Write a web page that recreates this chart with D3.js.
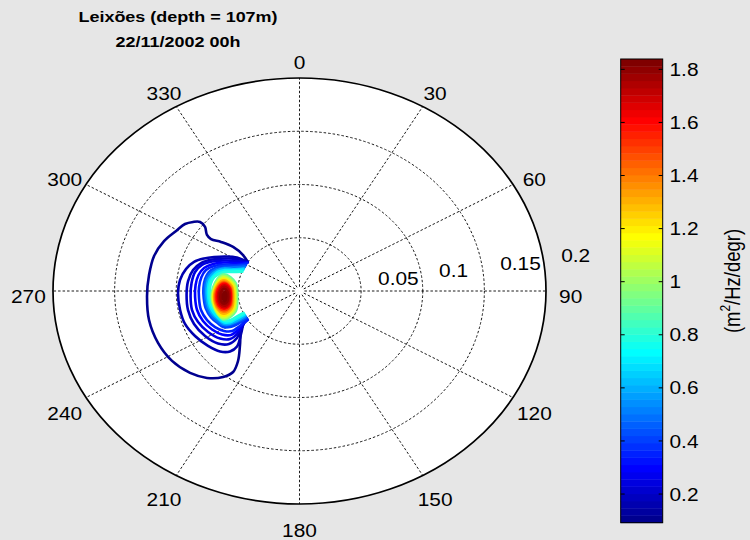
<!DOCTYPE html>
<html>
<head>
<meta charset="utf-8">
<script src="https://cdn.jsdelivr.net/npm/d3@7"></script>
<style>
  html, body { margin: 0; padding: 0; background: #e6e6e6; }
  svg { display: block; }
  text { font-family: "Liberation Sans", Arial, Helvetica, sans-serif; fill: #000; }
</style>
</head>
<body>
<svg id="chart" width="750" height="540"></svg>
<script>
// ---- data ----------------------------------------------------------
const titleLines = ["Leixões (depth = 107m)", "22/11/2002 00h"];
const directionTicks = [0, 30, 60, 90, 120, 150, 180, 210, 240, 270, 300, 330];
const radiusTicks = [0.05, 0.1, 0.15, 0.2];
const radiusMax = 0.2;
const colorLimits = [0.092, 1.839];
const colorbarTicks = [0.2, 0.4, 0.6, 0.8, 1, 1.2, 1.4, 1.6, 1.8];
const colorbarUnit = ["(m", "2", "/Hz/degr)"];

// contour levels of the directional spectrum (m²/Hz/degr)
const contourLevels = [0.1, 0.15, 0.2, 0.25, 0.3, 0.35, 0.4, 0.5, 0.6, 0.7, 0.8,
                       0.9, 1.0, 1.1, 1.2, 1.3, 1.4, 1.5, 1.6, 1.7, 1.75, 1.8, 1.83];
// levels from 0.9 up are closed rings; lower ones end on the 0.05 Hz limit
const closedFromLevel = 0.9;

// each contour: [direction (deg, clockwise from N), frequency (Hz)]
const contourPoints = [
  [[303,.050],[306.4,.0569],[307.5,.0679],[305.9,.0786],[304.2,.0868],[305.2,.0920],[308.1,.0974],[308.8,.1035],[306.9,.1080],[304.1,.1122],[299.4,.1149],[293.1,.1195],[285.6,.1225],[277.0,.1230],[267.8,.1238],[257.4,.1251],[247.0,.1247],[237.6,.1225],[229.1,.1175],[222.6,.1109],[217.5,.1018],[215.3,.0932],[217.2,.0825],[223.6,.0700],[232.3,.0599],[240,.050]],
  [[303,.050],[301.8,.0597],[298.5,.0679],[294.7,.0763],[291.5,.0832],[287.7,.0898],[282.7,.0943],[276.1,.0975],[268.9,.0986],[259.6,.0985],[251.6,.0979],[243.5,.0947],[235.2,.0904],[228.6,.0859],[224.8,.0800],[224.2,.0727],[229.6,.0623],[237.1,.0536],[239,.050]],
  [[303,.050],[300.7,.0589],[296.8,.0677],[292.6,.0769],[288.2,.0841],[282.9,.0886],[275.9,.0909],[267.6,.0917],[258.8,.0922],[250.1,.0910],[241.1,.0875],[233.3,.0825],[229.0,.0758],[229.0,.0672],[234.1,.0576],[238.5,.050]],
  [[302.5,.050],[298.7,.0587],[295.1,.0676],[291.3,.0762],[287.2,.0828],[281.9,.0866],[274.9,.0879],[267.0,.0885],[258.4,.0890],[250.5,.0873],[242.6,.0836],[235.3,.0784],[231.3,.0722],[231.7,.0636],[235.9,.0553],[238,.050]],
  [[302,.050],[297.0,.0578],[293.6,.0668],[289.9,.0746],[285.6,.0804],[280.4,.0833],[273.8,.0845],[266.2,.0849],[257.9,.0850],[250.2,.0832],[243.0,.0796],[237.0,.0750],[233.4,.0692],[233.7,.0619],[236.5,.0545],[237.5,.050]],
  [[301.5,.050],[295.4,.0570],[292.4,.0654],[288.7,.0732],[284.6,.0784],[279.4,.0806],[272.6,.0816],[265.4,.0818],[257.4,.0819],[250.0,.0798],[243.7,.0764],[238.5,.0718],[235.5,.0664],[235.7,.0599],[237,.050]],
  [[299,.050],[294,.0575],[291,.0650],[287.5,.0715],[283.5,.0755],[278.5,.0772],[272,.0778],[265,.0778],[258,.0776],[251,.0757],[245.5,.0727],[241.5,.0705],[239,.0645],[238.5,.0590],[239.5,.050]],
  [[297,.050],[292.5,.0575],[289.5,.0645],[286.5,.0705],[282.5,.0742],[278,.0760],[272,.0766],[265,.0766],[258,.0763],[251.5,.0745],[246.5,.0718],[243,.0695],[241,.0650],[240.5,.0590],[241,.050]],
  [[295,.050],[290.5,.0575],[289,.0642],[285.8,.0695],[281.5,.0730],[277.5,.0748],[272,.0753],[265,.0753],[258.5,.0750],[252.5,.0733],[248,.0708],[243.5,.0684],[241.6,.0641],[241.5,.0581],[242.5,.050]],
  [[293.5,.050],[290,.0572],[287.7,.0637],[285,.0687],[280.5,.0718],[277,.0735],[271.5,.0741],[265,.0741],[259,.0738],[254,.0725],[249.5,.0705],[244.6,.0678],[242.7,.0634],[243.0,.0578],[244,.050]],
  [[291.5,.050],[288.5,.0570],[286.4,.0633],[283.5,.0677],[280.5,.0706],[275.5,.0724],[271,.0729],[265,.0729],[259.5,.0726],[255,.0711],[251,.0693],[245.7,.0672],[243.8,.0628],[244.4,.0576],[245.5,.050]],
  [[284.2,.0632],[279.5,.0674],[265.5,.0716],[251.3,.0692],[246.4,.0668],[250.0,.0553],[263.65,.0510],[278.2,.0526]],
  [[282.95,.0628],[278.5,.0670],[265.45,.0709],[252.0,.0696],[247.3,.0664],[250.8,.0559],[263.75,.0518],[277.3,.0532]],
  [[281.7,.0625],[277.5,.0667],[265.4,.0704],[252.8,.0691],[248.25,.0659],[251.7,.0564],[263.85,.0526],[276.4,.0539]],
  [[280.45,.0623],[276.55,.0664],[265.4,.0698],[253.65,.0686],[249.4,.0654],[252.65,.0568],[263.95,.0534],[275.55,.0546]],
  [[279.15,.0620],[275.6,.0661],[265.3,.0693],[254.9,.0681],[250.95,.0648],[253.95,.0573],[264.05,.0542],[274.65,.0553]],
  [[277.85,.0618],[274.6,.0657],[265.3,.0687],[256.1,.0676],[252.55,.0642],[255.25,.0578],[264.1,.0550],[273.75,.0559]],
  [[277.0,.0617],[273.9,.0653],[265.25,.0680],[257.0,.0670],[253.75,.0638],[256.25,.0581],[264.2,.0557],[273.15,.0565]],
  [[276.1,.0616],[273.25,.0648],[265.2,.0672],[257.9,.0663],[255.0,.0634],[257.2,.0584],[264.25,.0562],[272.6,.0569]],
  [[274.8,.06145],[272.25,.0642],[265.1,.0662],[258.8,.0655],[256.2,.0631],[258.2,.0588],[264.3,.0569],[271.7,.0575]],
  [[273.5,.0614],[271.25,.0637],[265.05,.0654],[259.65,.0648],[257.45,.0627],[259.15,.0591],[264.4,.0575],[270.75,.0580]],
  [[271.75,.0613],[269.95,.0630],[265.0,.0643],[260.85,.0639],[259.15,.0624],[260.45,.0596],[264.45,.0583],[269.55,.0587]],
  [[269.1,.0608],[268.0,.0616],[265.25,.0623],[262.4,.0622],[261.2,.0616],[262.3,.0605],[265.05,.0598],[267.9,.0599]]
];

// ---- layout --------------------------------------------------------
const cx = 299.5, cy = 291;          // pole of the polar axes
const stretchX = 1.16;               // horizontal aspect of the figure
const fontSize = 18;

const svg = d3.select("#chart");

const rX = d3.scaleLinear().domain([0, radiusMax]).range([0, 246.5]);
const rY = d3.scaleLinear().domain([0, radiusMax]).range([0, 213]);
const angle = d3.scaleLinear().domain([0, 360]).range([0, 2 * Math.PI]);

function project(d) {
  const a = angle(d[0]);
  return [cx + rX(d[1]) * Math.sin(a), cy - rY(d[1]) * Math.cos(a)];
}

// MATLAB-style jet colormap, 64 entries
const nColors = 64;
function jet(t) {
  const c = v => Math.max(0, Math.min(1, v));
  return d3.rgb(255 * c(Math.min(4 * t - 1.5, -4 * t + 4.5)),
                255 * c(Math.min(4 * t - 0.5, -4 * t + 3.5)),
                255 * c(Math.min(4 * t + 0.5, -4 * t + 2.5))).formatHex();
}
const jetColors = d3.range(nColors).map(i => jet((i + 1) / nColors));
const colorScale = d3.scaleQuantize().domain(colorLimits).range(jetColors);

// stretched text helper
function stretchedText(g, x, y, str, anchor) {
  return g.append("text")
    .attr("transform", `translate(${x},${y}) scale(${stretchX},1)`)
    .attr("text-anchor", anchor || "middle")
    .attr("font-size", fontSize)
    .text(str);
}

// ---- polar frame ---------------------------------------------------
const plot = svg.append("g");

plot.append("ellipse")
  .attr("cx", cx).attr("cy", cy)
  .attr("rx", rX(radiusMax)).attr("ry", rY(radiusMax))
  .attr("fill", "#fff");

plot.selectAll("ellipse.ring")
  .data(radiusTicks.filter(r => r < radiusMax))
  .join("ellipse")
  .attr("class", "ring")
  .attr("cx", cx).attr("cy", cy)
  .attr("rx", d => rX(d)).attr("ry", d => rY(d))
  .attr("fill", "none")
  .attr("stroke", "#000")
  .attr("stroke-width", 0.9)
  .attr("stroke-dasharray", "2.5,2");

plot.selectAll("line.spoke")
  .data(directionTicks)
  .join("line")
  .attr("class", "spoke")
  .attr("x1", d => project([d, 0.004])[0])
  .attr("y1", d => project([d, 0.004])[1])
  .attr("x2", d => project([d, radiusMax])[0])
  .attr("y2", d => project([d, radiusMax])[1])
  .attr("stroke", "#000")
  .attr("stroke-width", 0.9)
  .attr("stroke-dasharray", "2.5,2");

// ---- contours ------------------------------------------------------
const openLine = d3.line().x(d => project(d)[0]).y(d => project(d)[1])
  .curve(d3.curveCatmullRom.alpha(0.5));
const closedLine = d3.line().x(d => project(d)[0]).y(d => project(d)[1])
  .curve(d3.curveCatmullRomClosed.alpha(0.5));

plot.append("g")
  .selectAll("path")
  .data(contourLevels.map((lev, i) => ({ level: lev, points: contourPoints[i] })))
  .join("path")
  .attr("d", d => (d.level >= closedFromLevel ? closedLine : openLine)(d.points))
  .attr("fill", "none")
  .attr("stroke", d => colorScale(d.level))
  .attr("stroke-width", d => d.level < 0.4 ? 2.6 : 3.1)
  .attr("stroke-linejoin", "round")
  .attr("stroke-linecap", "round");

// outer boundary
plot.append("ellipse")
  .attr("cx", cx).attr("cy", cy)
  .attr("rx", rX(radiusMax)).attr("ry", rY(radiusMax))
  .attr("fill", "none")
  .attr("stroke", "#000")
  .attr("stroke-width", 1.7);

// direction labels
const labelR = radiusMax * 1.1;
directionTicks.forEach(d => {
  const p = project([d, labelR]);
  stretchedText(plot, p[0], p[1] + 11.9, String(d));
});

// radius labels along the 82° direction
radiusTicks.forEach(r => {
  const p = project([82, r + radiusMax / 80]);
  stretchedText(plot, p[0] + 14.5, p[1] + 1.5, String(r), "start");
});

// ---- title ---------------------------------------------------------
titleLines.forEach((t, i) => {
  svg.append("text")
    .attr("transform", `translate(178,${22.3 + i * 24.4}) scale(${stretchX},1)`)
    .attr("text-anchor", "middle")
    .attr("font-size", 15.5)
    .attr("font-weight", "bold")
    .text(t);
});

// ---- colorbar ------------------------------------------------------
const cbX0 = 620.7, cbX1 = 662.7;
const cbY = d3.scaleLinear().domain(colorLimits).range([522.7, 59]);
const step = (colorLimits[1] - colorLimits[0]) / nColors;
const cb = svg.append("g");

cb.selectAll("rect.band")
  .data(jetColors)
  .join("rect")
  .attr("class", "band")
  .attr("x", cbX0)
  .attr("width", cbX1 - cbX0)
  .attr("y", (c, i) => cbY(colorLimits[0] + (i + 1) * step))
  .attr("height", (c, i) => cbY(colorLimits[0] + i * step) - cbY(colorLimits[0] + (i + 1) * step) + 0.4)
  .attr("fill", c => c);

cb.append("rect")
  .attr("x", cbX0).attr("y", cbY(colorLimits[1]))
  .attr("width", cbX1 - cbX0)
  .attr("height", cbY(colorLimits[0]) - cbY(colorLimits[1]))
  .attr("fill", "none")
  .attr("stroke", "#000")
  .attr("stroke-width", 1);

colorbarTicks.forEach(v => {
  const y = cbY(v);
  cb.append("line").attr("x1", cbX0).attr("x2", cbX0 + 4).attr("y1", y).attr("y2", y)
    .attr("stroke", "#000").attr("stroke-width", 1);
  cb.append("line").attr("x1", cbX1 - 4).attr("x2", cbX1).attr("y1", y).attr("y2", y)
    .attr("stroke", "#000").attr("stroke-width", 1);
  stretchedText(cb, 669.5, y + 6.6, String(v), "start");
});

const unit = cb.append("text")
  .attr("transform", `translate(733,281) scale(${stretchX},1) rotate(-90)`)
  .attr("text-anchor", "middle")
  .attr("dominant-baseline", "central")
  .attr("font-size", 18.5);
unit.append("tspan").text(colorbarUnit[0]);
unit.append("tspan").attr("font-size", 12).attr("dy", -7).text(colorbarUnit[1]);
unit.append("tspan").attr("dy", 7).text(colorbarUnit[2]);
</script>
</body>
</html>
